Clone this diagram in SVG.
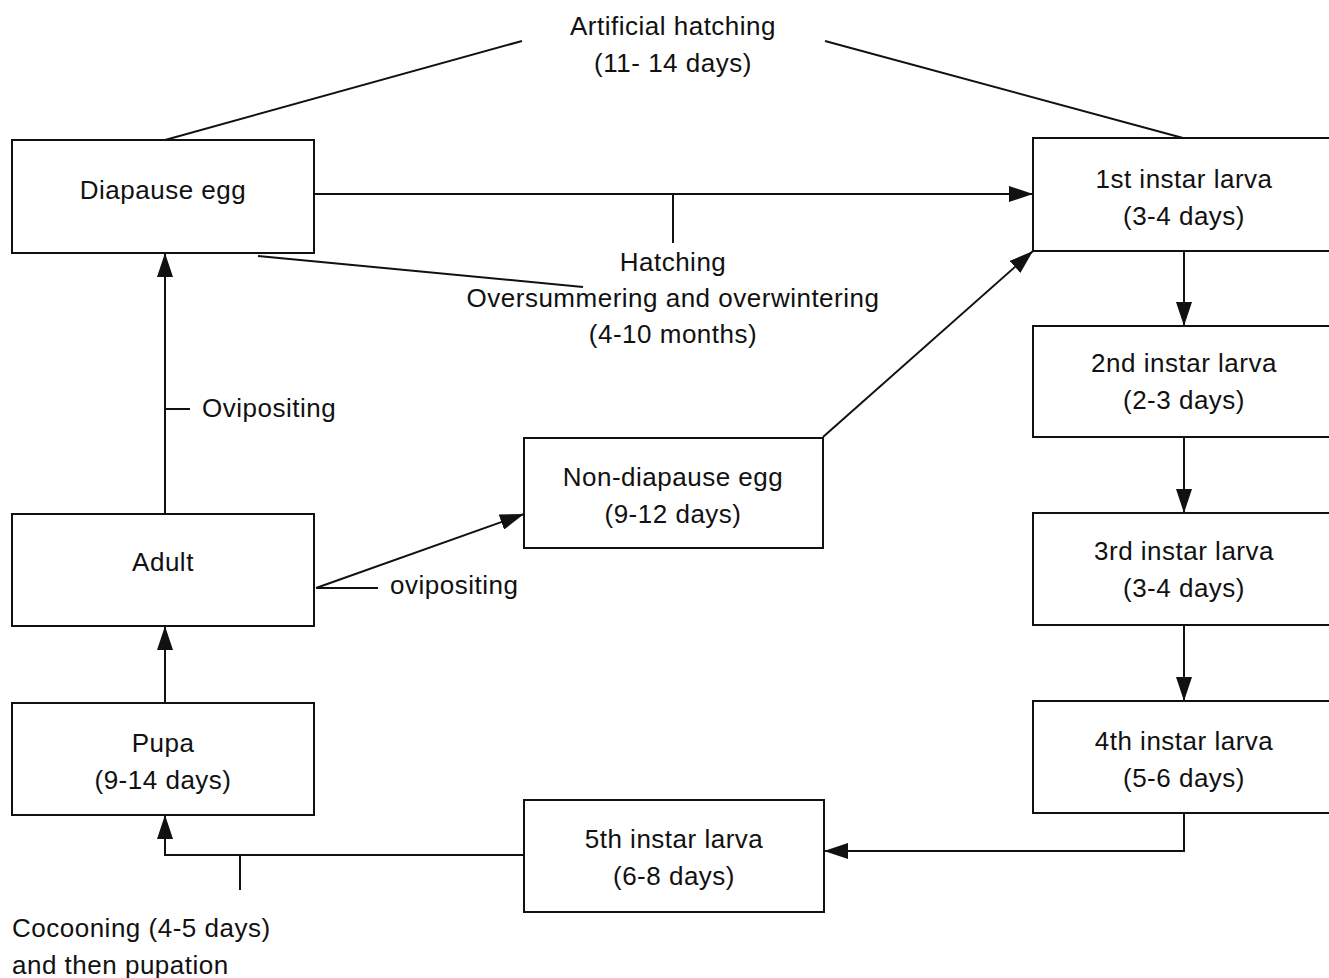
<svg xmlns="http://www.w3.org/2000/svg" width="1329" height="978" viewBox="0 0 1329 978">
<style>
.box{fill:#fff;stroke:#111;stroke-width:2}
.ln{fill:none;stroke:#111;stroke-width:2}
text{font-family:"Liberation Sans",Arial,sans-serif;font-size:26px;letter-spacing:0.5px;fill:#111}
.c{text-anchor:middle}
</style>
<defs>
<marker id="ah" viewBox="0 0 24 16" refX="24" refY="8" markerWidth="24" markerHeight="16" markerUnits="userSpaceOnUse" orient="auto">
<path d="M0,0 L24,8 L0,16 Z" fill="#111"/>
</marker>
</defs>
<rect width="1329" height="978" fill="#fff"/>
<g id="connectors">
<polyline class="ln" points="165,140 522,41"/>
<polyline class="ln" points="825,41 1183,138"/>
<line class="ln" x1="314" y1="194" x2="1033" y2="194" marker-end="url(#ah)"/>
<line class="ln" x1="673" y1="194" x2="673" y2="243"/>
<line class="ln" x1="258" y1="256" x2="583" y2="287"/>
<line class="ln" x1="165" y1="514" x2="165" y2="253" marker-end="url(#ah)"/>
<line class="ln" x1="165" y1="409" x2="190" y2="409"/>
<line class="ln" x1="165" y1="703" x2="165" y2="626" marker-end="url(#ah)"/>
<line class="ln" x1="316" y1="588" x2="524" y2="514" marker-end="url(#ah)"/>
<line class="ln" x1="316" y1="588" x2="378" y2="588"/>
<line class="ln" x1="823" y1="437" x2="1033" y2="251" marker-end="url(#ah)"/>
<line class="ln" x1="1184" y1="251" x2="1184" y2="326" marker-end="url(#ah)"/>
<line class="ln" x1="1184" y1="437" x2="1184" y2="513" marker-end="url(#ah)"/>
<line class="ln" x1="1184" y1="625" x2="1184" y2="701" marker-end="url(#ah)"/>
<polyline class="ln" points="1184,813 1184,851 824,851" marker-end="url(#ah)"/>
<polyline class="ln" points="524,855 165,855 165,815" marker-end="url(#ah)"/>
<line class="ln" x1="240" y1="855" x2="240" y2="890"/>
</g>
<g id="labels">
<text class="c" x="673" y="35">Artificial hatching</text>
<text class="c" x="673" y="72">(11- 14 days)</text>
<text class="c" x="673" y="271">Hatching</text>
<text class="c" x="673" y="307">Oversummering and overwintering</text>
<text class="c" x="673" y="343">(4-10 months)</text>
<text x="202" y="417">Ovipositing</text>
<text x="390" y="594">ovipositing</text>
<text x="12" y="937">Cocooning (4-5 days)</text>
<text x="12" y="974">and then pupation</text>
</g>
<g id="diapause-egg"><rect class="box" x="12" y="140" width="302" height="113"/><text class="c" x="163" y="199">Diapause egg</text></g>
<g id="instar1"><rect class="box" x="1033" y="138" width="310" height="113"/><text class="c" x="1184" y="188">1st instar larva</text><text class="c" x="1184" y="225">(3-4 days)</text></g>
<g id="instar2"><rect class="box" x="1033" y="326" width="310" height="111"/><text class="c" x="1184" y="372">2nd instar larva</text><text class="c" x="1184" y="409">(2-3 days)</text></g>
<g id="instar3"><rect class="box" x="1033" y="513" width="310" height="112"/><text class="c" x="1184" y="560">3rd instar larva</text><text class="c" x="1184" y="597">(3-4 days)</text></g>
<g id="instar4"><rect class="box" x="1033" y="701" width="310" height="112"/><text class="c" x="1184" y="750">4th instar larva</text><text class="c" x="1184" y="787">(5-6 days)</text></g>
<g id="instar5"><rect class="box" x="524" y="800" width="300" height="112"/><text class="c" x="674" y="848">5th instar larva</text><text class="c" x="674" y="885">(6-8 days)</text></g>
<g id="non-diapause-egg"><rect class="box" x="524" y="438" width="299" height="110"/><text class="c" x="673" y="486">Non-diapause egg</text><text class="c" x="673" y="523">(9-12 days)</text></g>
<g id="adult"><rect class="box" x="12" y="514" width="302" height="112"/><text class="c" x="163" y="571">Adult</text></g>
<g id="pupa"><rect class="box" x="12" y="703" width="302" height="112"/><text class="c" x="163" y="752">Pupa</text><text class="c" x="163" y="789">(9-14 days)</text></g>
</svg>
